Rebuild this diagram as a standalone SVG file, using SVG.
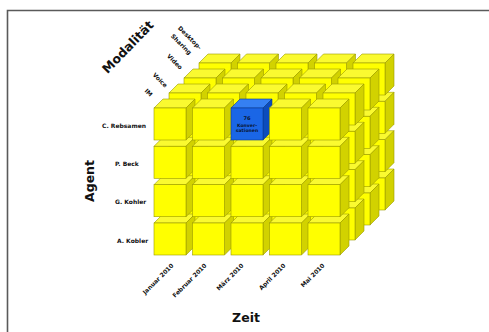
<svg xmlns="http://www.w3.org/2000/svg" xmlns:xlink="http://www.w3.org/1999/xlink" width="489" height="332" viewBox="0 0 489 332">
  <style>
    text { font-family: "DejaVu Sans", "Liberation Sans", sans-serif; font-weight: bold; fill: #111; }
    .lbl { font-size: 6px; }
    .axis { font-size: 12.5px; }
    .front { fill: #ffff00; stroke: #9a9a00; stroke-width: 0.6; }
    .top { fill: #fafa30; stroke: #9a9a00; stroke-width: 0.6; }
    .side { fill: #d2d200; stroke: #9a9a00; stroke-width: 0.6; }
    .hl-front { fill: #1a66e6; stroke: #0a3a90; stroke-width: 0.6; }
    .hl-top { fill: #3580f2; stroke: #0a3a90; stroke-width: 0.6; }
    .hl-side { fill: #0c4cbc; stroke: #0a3a90; stroke-width: 0.6; }
    .hl-txt { font-size: 4.6px; text-anchor: middle; fill: #0a1633; }
  </style>
  <defs>
    <!-- one cube, origin at the top-left corner of its front face -->
    <g id="cube">
      <polygon class="top" points="0,0 9,-9 41,-9 32,0"/>
      <polygon class="side" points="32,0 41,-9 41,23 32,32"/>
      <rect class="front" width="32" height="32"/>
    </g>
    <g id="cube-hl">
      <polygon class="hl-top" points="0,0 9,-9 41,-9 32,0"/>
      <polygon class="hl-side" points="32,0 41,-9 41,23 32,32"/>
      <rect class="hl-front" width="32" height="32"/>
    </g>
  </defs>

  <rect width="489" height="332" fill="#ffffff"/>
  <!-- frame -->
  <path d="M7.5,332 V10.5 H489" fill="none" stroke="#5a5a5a" stroke-width="1.6"/>

  <!-- cube layers, drawn from the back (Desktop-Sharing) to the front (IM) -->
  <g id="layer-desktop-sharing" transform="translate(45,-45)">
    <use id="ds-akobler-jan" href="#cube" x="154" y="223"/>
    <use id="ds-akobler-feb" href="#cube" x="192.5" y="223"/>
    <use id="ds-akobler-mar" href="#cube" x="231" y="223"/>
    <use id="ds-akobler-apr" href="#cube" x="269.5" y="223"/>
    <use id="ds-akobler-mai" href="#cube" x="308" y="223"/>
    <use id="ds-gkohler-jan" href="#cube" x="154" y="184.7"/>
    <use id="ds-gkohler-feb" href="#cube" x="192.5" y="184.7"/>
    <use id="ds-gkohler-mar" href="#cube" x="231" y="184.7"/>
    <use id="ds-gkohler-apr" href="#cube" x="269.5" y="184.7"/>
    <use id="ds-gkohler-mai" href="#cube" x="308" y="184.7"/>
    <use id="ds-pbeck-jan" href="#cube" x="154" y="146.3"/>
    <use id="ds-pbeck-feb" href="#cube" x="192.5" y="146.3"/>
    <use id="ds-pbeck-mar" href="#cube" x="231" y="146.3"/>
    <use id="ds-pbeck-apr" href="#cube" x="269.5" y="146.3"/>
    <use id="ds-pbeck-mai" href="#cube" x="308" y="146.3"/>
    <use id="ds-crebsamen-jan" href="#cube" x="154" y="108"/>
    <use id="ds-crebsamen-feb" href="#cube" x="192.5" y="108"/>
    <use id="ds-crebsamen-mar" href="#cube" x="231" y="108"/>
    <use id="ds-crebsamen-apr" href="#cube" x="269.5" y="108"/>
    <use id="ds-crebsamen-mai" href="#cube" x="308" y="108"/>
  </g>
  <g id="layer-video" transform="translate(30,-30)">
    <use id="video-akobler-jan" href="#cube" x="154" y="223"/>
    <use id="video-akobler-feb" href="#cube" x="192.5" y="223"/>
    <use id="video-akobler-mar" href="#cube" x="231" y="223"/>
    <use id="video-akobler-apr" href="#cube" x="269.5" y="223"/>
    <use id="video-akobler-mai" href="#cube" x="308" y="223"/>
    <use id="video-gkohler-jan" href="#cube" x="154" y="184.7"/>
    <use id="video-gkohler-feb" href="#cube" x="192.5" y="184.7"/>
    <use id="video-gkohler-mar" href="#cube" x="231" y="184.7"/>
    <use id="video-gkohler-apr" href="#cube" x="269.5" y="184.7"/>
    <use id="video-gkohler-mai" href="#cube" x="308" y="184.7"/>
    <use id="video-pbeck-jan" href="#cube" x="154" y="146.3"/>
    <use id="video-pbeck-feb" href="#cube" x="192.5" y="146.3"/>
    <use id="video-pbeck-mar" href="#cube" x="231" y="146.3"/>
    <use id="video-pbeck-apr" href="#cube" x="269.5" y="146.3"/>
    <use id="video-pbeck-mai" href="#cube" x="308" y="146.3"/>
    <use id="video-crebsamen-jan" href="#cube" x="154" y="108"/>
    <use id="video-crebsamen-feb" href="#cube" x="192.5" y="108"/>
    <use id="video-crebsamen-mar" href="#cube" x="231" y="108"/>
    <use id="video-crebsamen-apr" href="#cube" x="269.5" y="108"/>
    <use id="video-crebsamen-mai" href="#cube" x="308" y="108"/>
  </g>
  <g id="layer-voice" transform="translate(15,-15)">
    <use id="voice-akobler-jan" href="#cube" x="154" y="223"/>
    <use id="voice-akobler-feb" href="#cube" x="192.5" y="223"/>
    <use id="voice-akobler-mar" href="#cube" x="231" y="223"/>
    <use id="voice-akobler-apr" href="#cube" x="269.5" y="223"/>
    <use id="voice-akobler-mai" href="#cube" x="308" y="223"/>
    <use id="voice-gkohler-jan" href="#cube" x="154" y="184.7"/>
    <use id="voice-gkohler-feb" href="#cube" x="192.5" y="184.7"/>
    <use id="voice-gkohler-mar" href="#cube" x="231" y="184.7"/>
    <use id="voice-gkohler-apr" href="#cube" x="269.5" y="184.7"/>
    <use id="voice-gkohler-mai" href="#cube" x="308" y="184.7"/>
    <use id="voice-pbeck-jan" href="#cube" x="154" y="146.3"/>
    <use id="voice-pbeck-feb" href="#cube" x="192.5" y="146.3"/>
    <use id="voice-pbeck-mar" href="#cube" x="231" y="146.3"/>
    <use id="voice-pbeck-apr" href="#cube" x="269.5" y="146.3"/>
    <use id="voice-pbeck-mai" href="#cube" x="308" y="146.3"/>
    <use id="voice-crebsamen-jan" href="#cube" x="154" y="108"/>
    <use id="voice-crebsamen-feb" href="#cube" x="192.5" y="108"/>
    <use id="voice-crebsamen-mar" href="#cube" x="231" y="108"/>
    <use id="voice-crebsamen-apr" href="#cube" x="269.5" y="108"/>
    <use id="voice-crebsamen-mai" href="#cube" x="308" y="108"/>
  </g>
  <g id="layer-im">
    <use id="im-akobler-jan" href="#cube" x="154" y="223"/>
    <use id="im-akobler-feb" href="#cube" x="192.5" y="223"/>
    <use id="im-akobler-mar" href="#cube" x="231" y="223"/>
    <use id="im-akobler-apr" href="#cube" x="269.5" y="223"/>
    <use id="im-akobler-mai" href="#cube" x="308" y="223"/>
    <use id="im-gkohler-jan" href="#cube" x="154" y="184.7"/>
    <use id="im-gkohler-feb" href="#cube" x="192.5" y="184.7"/>
    <use id="im-gkohler-mar" href="#cube" x="231" y="184.7"/>
    <use id="im-gkohler-apr" href="#cube" x="269.5" y="184.7"/>
    <use id="im-gkohler-mai" href="#cube" x="308" y="184.7"/>
    <use id="im-pbeck-jan" href="#cube" x="154" y="146.3"/>
    <use id="im-pbeck-feb" href="#cube" x="192.5" y="146.3"/>
    <use id="im-pbeck-mar" href="#cube" x="231" y="146.3"/>
    <use id="im-pbeck-apr" href="#cube" x="269.5" y="146.3"/>
    <use id="im-pbeck-mai" href="#cube" x="308" y="146.3"/>
    <use id="im-crebsamen-jan" href="#cube" x="154" y="108"/>
    <use id="im-crebsamen-feb" href="#cube" x="192.5" y="108"/>
    <g id="im-crebsamen-mar">
      <use href="#cube-hl" x="231" y="108"/>
      <text class="hl-txt" x="247" y="120" style="font-size:5.2px">76</text>
      <text class="hl-txt" x="247" y="126.5">Konver-</text>
      <text class="hl-txt" x="247" y="131.5">sationen</text>
    </g>
    <use id="im-crebsamen-apr" href="#cube" x="269.5" y="108"/>
    <use id="im-crebsamen-mai" href="#cube" x="308" y="108"/>
  </g>

  <!-- agent axis -->
  <g id="agent-labels">
    <text class="lbl" x="102" y="128">C. Rebsamen</text>
    <text class="lbl" x="115" y="166">P. Beck</text>
    <text class="lbl" x="115" y="204">G. Kohler</text>
    <text class="lbl" x="117" y="243">A. Kobler</text>
    <text class="axis" text-anchor="middle" transform="translate(93.5,181) rotate(-90)">Agent</text>
  </g>

  <!-- time axis -->
  <g id="time-labels" class="lbl" text-anchor="end">
    <text transform="translate(174,266) rotate(-45)">Januar 2010</text>
    <text transform="translate(207,266) rotate(-45)">Februar 2010</text>
    <text transform="translate(244,266) rotate(-45)">März 2010</text>
    <text transform="translate(286,266) rotate(-45)">April 2010</text>
    <text transform="translate(325,266) rotate(-45)">Mai 2010</text>
  </g>
  <text class="axis" text-anchor="middle" x="246" y="322">Zeit</text>

  <!-- modality axis -->
  <g id="modality-labels" class="lbl" text-anchor="end">
    <text transform="translate(150,97) rotate(45)">IM</text>
    <text transform="translate(165,88) rotate(45)">Voice</text>
    <text transform="translate(180,70) rotate(45)">Video</text>
    <text transform="translate(199,50) rotate(45)">Desktop-</text>
    <text transform="translate(189,55) rotate(45)">Sharing</text>
  </g>
  <text class="axis" text-anchor="middle" transform="translate(131,50) rotate(-46)">Modalität</text>
</svg>
